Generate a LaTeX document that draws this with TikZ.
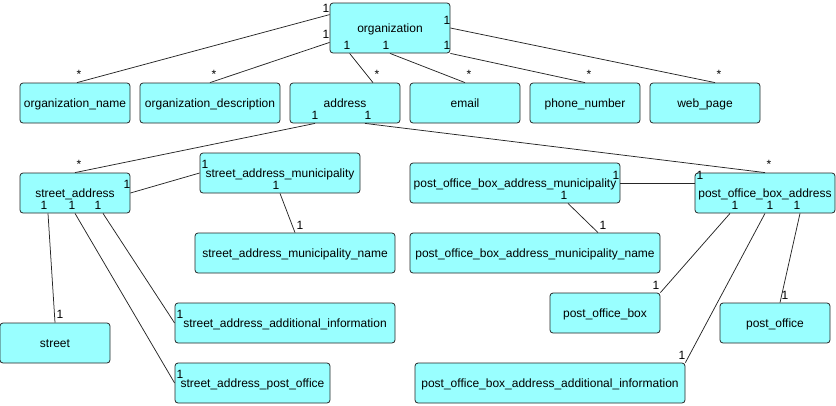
\documentclass[tikz,border=0pt]{standalone}
\usepackage{fontspec}
\setmainfont{Liberation Sans}
\usetikzlibrary{calc}

\definecolor{boxfill}{RGB}{153,255,255}

\begin{document}
\begin{tikzpicture}[x=1pt,y=-1pt,
    entity/.style={draw=black!85, fill=boxfill, rounded corners=3pt, line width=0.8pt,
        minimum height=40pt, inner sep=0pt, text height=9pt, text depth=0pt,
        font=\fontsize{12}{14}\selectfont},
    card/.style={inner sep=0pt, font=\fontsize{12}{14}\selectfont},
    link/.style={draw=black!85, line width=0.75pt}]
    \useasboundingbox (0,0) rectangle (836,405);

    % Draw the entities
    \node[entity, minimum width=120pt, minimum height=50pt] (org) at (390,28) {organization};
    \node[entity, minimum width=110pt] (orgname) at (75,103) {organization\_name};
    \node[entity, minimum width=140pt] (orgdesc) at (210,103) {organization\_description};
    \node[entity, minimum width=110pt] (address) at (345,103) {address};
    \node[entity, minimum width=110pt] (email) at (465,103) {email};
    \node[entity, minimum width=110pt] (phone) at (585,103) {phone\_number};
    \node[entity, minimum width=110pt] (web) at (705,103) {web\_page};

    \node[entity, minimum width=110pt] (stradr) at (75,193) {street\_address};
    \node[entity, minimum width=160pt] (stmun) at (280,173) {street\_address\_municipality};
    \node[entity, minimum width=200pt] (stmunname) at (295,253) {street\_address\_municipality\_name};
    \node[entity, minimum width=110pt] (street) at (55,343) {street};
    \node[entity, minimum width=220pt] (stadd) at (285,323) {street\_address\_additional\_information};
    \node[entity, minimum width=155pt] (stpo) at (252.5,383) {street\_address\_post\_office};

    \node[entity, minimum width=210pt] (pobmun) at (515,183) {post\_office\_box\_address\_municipality};
    \node[entity, minimum width=140pt] (poba) at (765,193) {post\_office\_box\_address};
    \node[entity, minimum width=250pt] (pobmunname) at (535,253) {post\_office\_box\_address\_municipality\_name};
    \node[entity, minimum width=110pt] (pob) at (605,313) {post\_office\_box};
    \node[entity, minimum width=110pt] (po) at (775,323) {post\_office};
    \node[entity, minimum width=270pt] (pobai) at (550,383) {post\_office\_box\_address\_additional\_information};

    % Draw the links from organization
    \draw[link] ($(org.north west)+(0,12)$) -- ($(orgname.north)+(2,0)$);
    \draw[link] ($(org.south west)+(0,-11)$) -- (orgdesc.north);
    \draw[link] ($(org.south west)+(20,0)$) -- ($(address.north)+(28,0)$);
    \draw[link] (org.south) -- (email.north);
    \draw[link] (org.south east) -- (phone.north);
    \draw[link] (org.east) -- ($(web.north)+(10,0)$);

    % Draw the links from address
    \draw[link] ($(address.south)+(-30,0)$) -- (stradr.north);
    \draw[link] ($(address.south)+(20,0)$) -- (poba.north);

    % Draw the links from street_address
    \draw[link] (stradr.east) -- (stmun.west);
    \draw[link] (stmun.south) -- (stmunname.north);
    \draw[link] ($(stradr.south)+(-27,0)$) -- (street.north);
    \draw[link] (stradr.south) -- (stpo.west);
    \draw[link] ($(stradr.south)+(28,0)$) -- (stadd.west);

    % Draw the links from post_office_box_address
    \draw[link] (pobmun.east) -- (poba.west |- pobmun.east);
    \draw[link] ($(pobmun.south)+(53,0)$) -- ($(pobmunname.north)+(63,0)$);
    \draw[link] ($(poba.south)+(-35,0)$) -- (pob.north east);
    \draw[link] (poba.south) -- (pobai.north east);
    \draw[link] ($(poba.south)+(35,0)$) -- ($(po.north)+(5,0)$);

    % Cardinalities
    \foreach \n/\x/\y/\t in {
        c1/326/8/1, c2/79/74/*, c3/326/34/1, c4/214/74/*,
        c5/347/45/1, c6/377/74/*, c7/386/45/1, c8/469/74/*,
        c9/447/45/1, c10/589/74/*, c11/447/20/1, c12/719/74/*,
        c13/315/115/1, c14/79/164/*, c15/368/115/1, c16/769/164/*,
        c17/127/184/1, c18/205/164/1, c19/276/185/1, c20/300/225/1,
        c21/44/205/1, c22/60/314/1, c23/72/205/1, c24/180/374/1,
        c25/98/205/1, c26/180/314/1,
        c27/616/175/1, c28/700/175/1, c29/564/195/1, c30/603/225/1,
        c31/735/205/1, c32/656/285/1, c33/770/205/1, c34/682/355/1,
        c35/797/205/1, c36/785/295/1} {
        \node[card] (\n) at (\x,\y) {\t};
    }
\end{tikzpicture}
\end{document}
